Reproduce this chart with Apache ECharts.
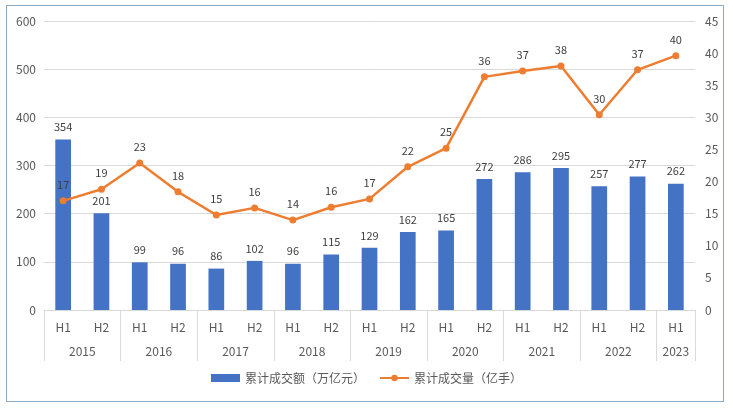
<!DOCTYPE html>
<html><head><meta charset="utf-8">
<script src="https://cdn.jsdelivr.net/npm/echarts@6/dist/echarts.min.js"></script>
<style>html,body{margin:0;padding:0;background:#fff}#c{width:733px;height:408px}
#frame{position:absolute;left:6px;top:5px;width:716px;height:395px;border:1px solid #8EA9C1;pointer-events:none}</style>
</head><body><div id="c"></div><div id="frame"></div>
<script>
const years = ['2015','2016','2017','2018','2019','2020','2021','2022','2023'];
const halvesPerYear = [2,2,2,2,2,2,2,2,1];
const halfLabels = ['H1','H2'];
const turnover = [354,201,99,96,86,102,96,115,129,162,165,272,286,295,257,277,262];
const volume = [17.0,18.8,22.9,18.4,14.8,15.9,14.0,16.0,17.3,22.3,25.2,36.3,37.2,38.0,30.4,37.4,39.6];
const leftTicks = {min:0,max:600,interval:100};
const rightTicks = {min:0,max:45,interval:5};
const seriesNames = ['累计成交额（万亿元）','累计成交量（亿手）'];

const categories = [];
const boundaries = [0];
const centers = [];
const centerYear = {};
let pos = 0;
years.forEach((y,i)=>{
  for(let k=0;k<halvesPerYear[i];k++) categories.push(halfLabels[k]);
  const c = pos + halvesPerYear[i]/2;
  centers.push(c); centerYear[c] = y;
  pos += halvesPerYear[i];
  boundaries.push(pos);
});

const font = '"Microsoft YaHei","Noto Sans CJK SC",sans-serif';
const gray = '#595959';
const chart = echarts.init(document.getElementById('c'));
chart.setOption({
  animation:false,
  textStyle:{fontFamily:font},
  grid:{left:44,right:38,top:21,bottom:98},
  legend:{
    bottom:19,left:'center',itemGap:14,
    textStyle:{color:gray,fontSize:12,fontFamily:font},
    data:[{name:seriesNames[0],icon:'rect'},{name:seriesNames[1]}],
    itemWidth:29,itemHeight:8
  },
  xAxis:[{
    type:'category',data:categories,
    axisLine:{lineStyle:{color:'#d9d9d9'}},
    axisTick:{show:false},
    axisLabel:{color:gray,fontSize:12,margin:11}
  },{
    type:'value',min:0,max:categories.length,position:'bottom',
    axisLine:{show:false},
    splitLine:{show:false},
    axisTick:{show:true,customValues:boundaries,length:51,lineStyle:{color:'#d9d9d9'}},
    axisLabel:{customValues:centers,color:gray,fontSize:12,margin:35,
      formatter:v=>centerYear[v]||''}
  }],
  yAxis:[{
    type:'value',min:leftTicks.min,max:leftTicks.max,interval:leftTicks.interval,
    axisLine:{show:false},axisTick:{show:false},
    axisLabel:{color:gray,fontSize:12,margin:8},
    splitLine:{lineStyle:{color:'#d9d9d9'}}
  },{
    type:'value',min:rightTicks.min,max:rightTicks.max,interval:rightTicks.interval,
    axisLine:{show:false},axisTick:{show:false},
    axisLabel:{color:gray,fontSize:12,margin:10},
    splitLine:{show:false}
  }],
  series:[{
    name:seriesNames[0],type:'bar',data:turnover,xAxisIndex:0,yAxisIndex:0,
    barWidth:'41%',itemStyle:{color:'#4472C4'},
    label:{show:true,position:'top',color:'#404040',fontSize:11,distance:7}
  },{
    name:seriesNames[1],type:'line',data:volume,xAxisIndex:0,yAxisIndex:1,
    symbol:'circle',symbolSize:7,
    lineStyle:{color:'#ED7D31',width:2.5},itemStyle:{color:'#ED7D31'},
    label:{show:true,position:'top',color:'#404040',fontSize:11,distance:7,
      formatter:p=>Math.round(p.value)}
  }]
});
</script></body></html>
